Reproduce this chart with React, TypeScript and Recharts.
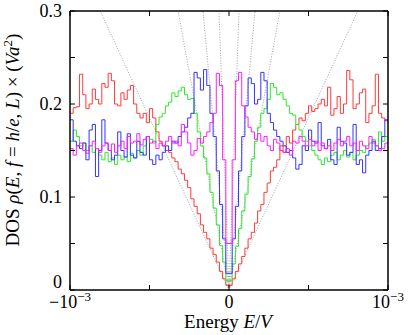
import React from 'react';
import { ComposedChart, Line, XAxis, YAxis } from 'recharts';

// Histogram bins in energy E (units of V): 100 bins from -1e-3 to 1e-3
const BIN_START = -1e-3;
const BIN_WIDTH = 2e-5;
const BIN_COUNT = 100;

const redDos = [
  0.19, 0.196, 0.197, 0.232, 0.21, 0.195, 0.2, 0.216, 0.205, 0.2,
  0.222, 0.218, 0.233, 0.225, 0.2, 0.198, 0.212, 0.205, 0.215, 0.22,
  0.2, 0.19, 0.185, 0.19, 0.18, 0.195, 0.185, 0.17, 0.16, 0.155,
  0.15, 0.148, 0.142, 0.138, 0.13, 0.125, 0.118, 0.11, 0.098, 0.09,
  0.082, 0.07, 0.062, 0.055, 0.045, 0.038, 0.03, 0.02, 0.012, 0.005,
  0.005, 0.012, 0.02, 0.028, 0.036, 0.045, 0.055, 0.062, 0.072, 0.085,
  0.092, 0.105, 0.115, 0.128, 0.132, 0.14, 0.155, 0.148, 0.165, 0.158,
  0.172, 0.178, 0.185, 0.182, 0.19, 0.198, 0.192, 0.195, 0.2, 0.205,
  0.198, 0.218, 0.188, 0.195, 0.208, 0.19, 0.2, 0.236, 0.226, 0.195,
  0.2, 0.212, 0.216, 0.18, 0.19, 0.198, 0.232, 0.19, 0.185, 0.182,
];

const greenDos = [
  0.16, 0.172, 0.165, 0.155, 0.158, 0.15, 0.155, 0.148, 0.152, 0.145,
  0.14, 0.148, 0.138, 0.142, 0.135, 0.145, 0.14, 0.143, 0.138, 0.147,
  0.142, 0.15, 0.145, 0.155, 0.165, 0.162, 0.158, 0.178, 0.186, 0.19,
  0.198, 0.202, 0.212, 0.208, 0.214, 0.218, 0.21, 0.205, 0.206, 0.19,
  0.17, 0.155, 0.142, 0.125, 0.105, 0.088, 0.07, 0.048, 0.03, 0.01,
  0.01, 0.028, 0.047, 0.066, 0.085, 0.103, 0.122, 0.141, 0.16, 0.175,
  0.19, 0.195, 0.205, 0.222, 0.218, 0.21, 0.212, 0.205, 0.198, 0.19,
  0.188, 0.178, 0.172, 0.165, 0.16, 0.155, 0.15, 0.145, 0.14, 0.135,
  0.142, 0.138, 0.145, 0.148, 0.14, 0.145, 0.15, 0.143, 0.148, 0.14,
  0.145, 0.15, 0.148, 0.155, 0.158, 0.162, 0.155, 0.17, 0.16, 0.165,
];

const blueDos = [
  0.183, 0.16, 0.155, 0.152, 0.158, 0.14, 0.172, 0.178, 0.122, 0.15,
  0.183, 0.158, 0.15, 0.14, 0.145, 0.17, 0.15, 0.143, 0.168, 0.145,
  0.142, 0.16, 0.148, 0.145, 0.165, 0.14, 0.135, 0.145, 0.14, 0.148,
  0.155, 0.15, 0.16, 0.158, 0.165, 0.17, 0.175, 0.185, 0.19, 0.234,
  0.228, 0.215, 0.237, 0.22, 0.19, 0.165, 0.128, 0.092, 0.055, 0.018,
  0.018, 0.055, 0.09, 0.128, 0.165, 0.198, 0.228, 0.222, 0.2, 0.205,
  0.234, 0.225, 0.19, 0.18, 0.172, 0.165, 0.16, 0.155, 0.148, 0.15,
  0.142, 0.13, 0.135, 0.155, 0.15, 0.172, 0.16, 0.158, 0.18, 0.155,
  0.152, 0.162, 0.14, 0.135, 0.175, 0.16, 0.158, 0.145, 0.148, 0.178,
  0.135, 0.14, 0.126, 0.145, 0.15, 0.16, 0.15, 0.152, 0.165, 0.183,
];

const magentaDos = [
  0.152, 0.145, 0.155, 0.158, 0.15, 0.147, 0.155, 0.16, 0.152, 0.148,
  0.155, 0.158, 0.15, 0.157, 0.148, 0.155, 0.16, 0.152, 0.165, 0.158,
  0.16, 0.168, 0.156, 0.162, 0.165, 0.158, 0.16, 0.152, 0.158, 0.155,
  0.16, 0.165, 0.158, 0.16, 0.155, 0.178, 0.17, 0.158, 0.145, 0.15,
  0.163, 0.158, 0.165, 0.17, 0.18, 0.19, 0.233, 0.22, 0.14, 0.05,
  0.05, 0.14, 0.225, 0.234, 0.198, 0.186, 0.175, 0.17, 0.162, 0.168,
  0.16, 0.165, 0.155, 0.15, 0.162, 0.158, 0.15, 0.148, 0.152, 0.145,
  0.16, 0.158, 0.165, 0.16, 0.155, 0.162, 0.155, 0.16, 0.15, 0.158,
  0.152, 0.155, 0.15, 0.158, 0.162, 0.155, 0.16, 0.165, 0.155, 0.158,
  0.15, 0.16, 0.155, 0.152, 0.165, 0.158, 0.155, 0.15, 0.152, 0.158,
];

// Dotted guide lines rho ∝ |E| from the origin, ending on the top frame at these energies
const fanTopEnergies = [-8.1e-4, -3.2e-4, -1.64e-4, -6.3e-5, 6.3e-5, 1.64e-4, 3.2e-4, 8.1e-4];
const fanTopDos = 0.3;

const xTicks = [-1e-3, -5e-4, 0, 5e-4, 1e-3];
const xTickLabels: ({ base: string; sup?: string } | null)[] = [
  { base: '−10', sup: '−3' },
  null,
  { base: '0' },
  null,
  { base: '10', sup: '−3' },
];
const yTicks = [0, 0.05, 0.1, 0.15, 0.2, 0.25, 0.3];
const yTickLabels = ['0', '', '0.1', '', '0.2', '', '0.3'];

const FONT = '"Liberation Serif", "Times New Roman", Times, serif';

const round = (v: number) => Math.round(v * 1e9) / 1e9;

const toSeries = (vals: number[]) => {
  const pts = vals.map((v, i) => ({ x: round(BIN_START + i * BIN_WIDTH), y: v }));
  pts.push({ x: round(BIN_START + BIN_COUNT * BIN_WIDTH), y: vals[vals.length - 1] });
  return pts;
};

const series = [
  { name: 'red', data: toSeries(redDos), color: '#ff3a3a' },
  { name: 'green', data: toSeries(greenDos), color: '#2ee82e' },
  { name: 'blue', data: toSeries(blueDos), color: '#3434ff' },
  { name: 'magenta', data: toSeries(magentaDos), color: '#ff1eff' },
];

const fans = fanTopEnergies.map((e) => [
  { x: 0, y: 0 },
  { x: e, y: fanTopDos },
]);

const idx = (arr: number[], v: number) => arr.findIndex((t) => Math.abs(t - v) < 1e-12);

const TICK = 5;

function BottomTick(props: any) {
  const { x, y, payload } = props;
  const i = idx(xTicks, payload.value);
  const lab = i >= 0 ? xTickLabels[i] : null;
  return (
    <g>
      <line x1={x} y1={y} x2={x} y2={y - TICK} stroke="#000" strokeWidth={1} />
      {lab && (
        <text x={x} y={y + 18} textAnchor="middle" fontFamily={FONT} fontSize={18} fill="#000">
          <tspan>{lab.base}</tspan>
          {lab.sup && (
            <tspan dy={-7} fontSize={13}>
              {lab.sup}
            </tspan>
          )}
        </text>
      )}
    </g>
  );
}

function TopTick(props: any) {
  const { x, y } = props;
  return <line x1={x} y1={y} x2={x} y2={y + TICK} stroke="#000" strokeWidth={1} />;
}

function LeftTick(props: any) {
  const { x, y, payload } = props;
  const i = idx(yTicks, payload.value);
  const lab = i >= 0 ? yTickLabels[i] : '';
  const lift = i === 0 ? -8 : 0;
  return (
    <g>
      <line x1={x} y1={y} x2={x + TICK} y2={y} stroke="#000" strokeWidth={1} />
      {lab && (
        <text x={x - 8} y={y + lift} dy="0.34em" textAnchor="end" fontFamily={FONT} fontSize={18} fill="#000">
          {lab}
        </text>
      )}
    </g>
  );
}

function RightTick(props: any) {
  const { x, y } = props;
  return <line x1={x} y1={y} x2={x - TICK} y2={y} stroke="#000" strokeWidth={1} />;
}

export default function App() {
  const axisLine = { stroke: '#000', strokeWidth: 1.5 };
  return (
    <div style={{ position: 'absolute', left: 0, top: 0, width: 409, height: 335, background: '#fff' }}>
      <ComposedChart width={409} height={335} margin={{ top: 1, right: 1, bottom: 5, left: 10 }}>
        <XAxis
          xAxisId={0}
          dataKey="x"
          type="number"
          domain={[-1e-3, 1e-3]}
          allowDataOverflow
          ticks={xTicks}
          interval={0}
          height={40}
          tickSize={0}
          tickMargin={0}
          axisLine={axisLine}
          tickLine={false}
          tick={<BottomTick />}
        />
        <XAxis
          xAxisId="top"
          orientation="top"
          dataKey="x"
          type="number"
          domain={[-1e-3, 1e-3]}
          allowDataOverflow
          ticks={xTicks}
          interval={0}
          height={10}
          tickSize={0}
          tickMargin={0}
          axisLine={axisLine}
          tickLine={false}
          tick={<TopTick />}
        />
        <YAxis
          yAxisId={0}
          type="number"
          domain={[0, 0.3]}
          allowDataOverflow
          ticks={yTicks}
          interval={0}
          width={60}
          tickSize={0}
          tickMargin={0}
          axisLine={axisLine}
          tickLine={false}
          tick={<LeftTick />}
        />
        <YAxis
          yAxisId="right"
          orientation="right"
          type="number"
          domain={[0, 0.3]}
          allowDataOverflow
          ticks={yTicks}
          interval={0}
          width={20}
          tickSize={0}
          tickMargin={0}
          axisLine={axisLine}
          tickLine={false}
          tick={<RightTick />}
        />
        {fans.map((d, i) => (
          <Line
            key={'fan' + i}
            xAxisId="top"
            yAxisId="right"
            data={d}
            dataKey="y"
            type="linear"
            stroke="#8a8a8a"
            strokeWidth={0.8}
            strokeDasharray="1 1.6"
            dot={false}
            activeDot={false}
            isAnimationActive={false}
          />
        ))}
        {series.map((s) => (
          <Line
            key={s.name}
            xAxisId={0}
            yAxisId={0}
            data={s.data}
            dataKey="y"
            type="stepAfter"
            stroke={s.color}
            strokeWidth={1}
            dot={false}
            activeDot={false}
            isAnimationActive={false}
          />
        ))}
        <text x={228} y={328} textAnchor="middle" fontFamily={FONT} fontSize={19} fill="#000">
          <tspan>Energy </tspan>
          <tspan fontStyle="italic">E</tspan>
          <tspan>/</tspan>
          <tspan fontStyle="italic">V</tspan>
        </text>
        <text
          transform="translate(18.5,140) rotate(-90)"
          textAnchor="middle"
          fontFamily={FONT}
          fontSize={19}
          fill="#000"
        >
          <tspan>DOS </tspan>
          <tspan fontStyle="italic">ρ</tspan>
          <tspan>(</tspan>
          <tspan fontStyle="italic">E</tspan>
          <tspan>, </tspan>
          <tspan fontStyle="italic">f</tspan>
          <tspan> = </tspan>
          <tspan fontStyle="italic">h</tspan>
          <tspan>/</tspan>
          <tspan fontStyle="italic">e</tspan>
          <tspan>, </tspan>
          <tspan fontStyle="italic">L</tspan>
          <tspan>) × (</tspan>
          <tspan fontStyle="italic">Va</tspan>
          <tspan dy={-7} fontSize={13}>2</tspan>
          <tspan dy={7}>)</tspan>
        </text>
      </ComposedChart>
    </div>
  );
}
